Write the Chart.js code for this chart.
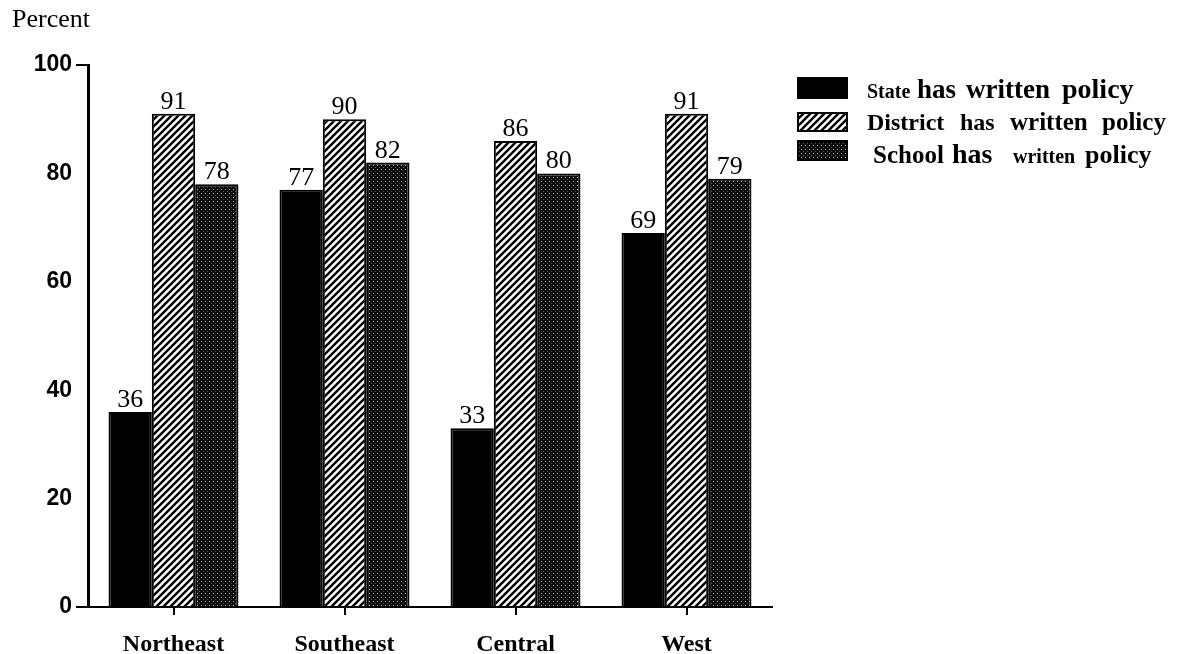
<!DOCTYPE html>
<html>
<head>
<meta charset="utf-8">
<script src="https://cdn.jsdelivr.net/npm/chart.js@4/dist/chart.umd.min.js"></script>
<style>
  html, body { margin: 0; padding: 0; background: #fff; }
  #wrap { position: relative; width: 1182px; height: 654px; }
  canvas { display: block; }
</style>
</head>
<body>
<div id="wrap"><canvas id="c" width="1182" height="654"></canvas></div>
<script>
// Regions and the share of each level with a written policy (percent)
const categories = ['Northeast', 'Southeast', 'Central', 'West'];
const stateValues = [36, 77, 33, 69];
const districtValues = [91, 90, 86, 91];
const schoolValues = [78, 82, 80, 79];
const yTickValues = [0, 20, 40, 60, 80, 100];
const seriesNames = ['State has written policy', 'District has written policy', 'School has written policy'];

const SERIF = '"Liberation Serif", "Times New Roman", serif';
const SANS = '"Liberation Sans", Arial, sans-serif';

// Fill patterns: diagonal hatch and dark stipple
function hatchPattern() {
  const s = 7;
  const t = document.createElement('canvas');
  t.width = s; t.height = s;
  const g = t.getContext('2d');
  g.fillStyle = '#fff';
  g.fillRect(0, 0, s, s);
  g.strokeStyle = '#000';
  g.lineWidth = 2.4;
  g.beginPath();
  g.moveTo(-1, s + 1); g.lineTo(s + 1, -1);
  g.moveTo(-1, 1); g.lineTo(1, -1);
  g.moveTo(s - 1, s + 1); g.lineTo(s + 1, s - 1);
  g.stroke();
  return g.createPattern(t, 'repeat');
}
function stipplePattern() {
  const s = 4;
  const t = document.createElement('canvas');
  t.width = s; t.height = s;
  const g = t.getContext('2d');
  g.fillStyle = '#0a0a0a';
  g.fillRect(0, 0, s, s);
  g.fillStyle = 'rgba(255,255,255,0.75)';
  g.fillRect(1, 1, 1, 1);
  g.fillStyle = 'rgba(255,255,255,0.35)';
  g.fillRect(3, 3, 1, 1);
  return g.createPattern(t, 'repeat');
}
const fills = ['#000', hatchPattern(), stipplePattern()];

// Value labels above each bar
const valueLabels = {
  id: 'valueLabels',
  afterDatasetsDraw(chart) {
    const ctx = chart.ctx;
    ctx.save();
    ctx.fillStyle = '#000';
    ctx.font = '26px ' + SERIF;
    ctx.textAlign = 'center';
    ctx.textBaseline = 'alphabetic';
    chart.data.datasets.forEach((ds, i) => {
      chart.getDatasetMeta(i).data.forEach((bar, j) => {
        ctx.fillText(String(ds.data[j]), bar.x, bar.y - 5);
      });
    });
    ctx.restore();
  }
};

// Axis caption and legend rows, set word by word in mixed type sizes
const legendRows = [
  { box: [797, 77, 51, 22], baseline: 98, words: [
    { t: 'State', x: 867, size: 20 }, { t: 'has', x: 917, size: 27 },
    { t: 'written', x: 966, size: 27 }, { t: 'policy', x: 1062, size: 28 } ] },
  { box: [797, 112, 51, 20], baseline: 130, words: [
    { t: 'District', x: 867, size: 24 }, { t: 'has', x: 960, size: 24 },
    { t: 'written', x: 1010, size: 25 }, { t: 'policy', x: 1102, size: 25 } ] },
  { box: [797, 140, 51, 21], baseline: 163, words: [
    { t: 'School', x: 873, size: 25 }, { t: 'has', x: 952, size: 28 },
    { t: 'written', x: 1013, size: 20 }, { t: 'policy', x: 1085, size: 26 } ] }
];
const decorations = {
  id: 'decorations',
  afterDraw(chart) {
    const ctx = chart.ctx;
    ctx.save();
    ctx.fillStyle = '#000';
    ctx.font = '26px ' + SERIF;
    ctx.textAlign = 'left';
    ctx.textBaseline = 'alphabetic';
    ctx.fillText('Percent', 12, 27);
    legendRows.forEach((row, i) => {
      const [bx, by, bw, bh] = row.box;
      ctx.fillStyle = fills[i];
      ctx.fillRect(bx, by, bw, bh);
      ctx.strokeStyle = '#000';
      ctx.lineWidth = 2;
      ctx.strokeRect(bx + 1, by + 1, bw - 2, bh - 2);
      ctx.fillStyle = '#000';
      row.words.forEach(w => {
        ctx.font = 'bold ' + w.size + 'px ' + SERIF;
        ctx.fillText(w.t, w.x, row.baseline);
      });
    });
    ctx.restore();
  }
};

const commonBar = { borderColor: '#000', borderWidth: 2, borderSkipped: 'bottom' };

new Chart(document.getElementById('c'), {
  type: 'bar',
  data: {
    labels: categories,
    datasets: [
      Object.assign({ label: seriesNames[0], data: stateValues, backgroundColor: fills[0] }, commonBar),
      Object.assign({ label: seriesNames[1], data: districtValues, backgroundColor: fills[1] }, commonBar),
      Object.assign({ label: seriesNames[2], data: schoolValues, backgroundColor: fills[2] }, commonBar)
    ]
  },
  options: {
    responsive: false,
    animation: false,
    devicePixelRatio: 1,
    categoryPercentage: 0.76,
    barPercentage: 1.0,
    layout: { padding: { top: 65, left: 0, right: 410, bottom: 0 } },
    plugins: { legend: { display: false }, tooltip: { enabled: false }, title: { display: false } },
    scales: {
      x: {
        offset: true,
        afterFit(scale) { scale.height = 47; },
        border: { display: true, color: '#000', width: 2 },
        grid: { offset: false, drawOnChartArea: false, drawTicks: true, tickLength: 8, tickColor: '#000', lineWidth: 2 },
        ticks: { color: '#000', padding: 15, font: { family: SERIF, size: 24, weight: 'bold' } }
      },
      y: {
        min: 0, max: 100,
        afterFit(scale) { scale.width = 88; },
        afterBuildTicks(scale) { scale.ticks = yTickValues.map(v => ({ value: v })); },
        border: { display: true, color: '#000', width: 3 },
        grid: {
          drawOnChartArea: false, drawTicks: true, tickLength: 12, lineWidth: 2,
          tickColor: (c) => (c.tick && (c.tick.value === 0 || c.tick.value === 100)) ? '#000' : 'rgba(0,0,0,0)'
        },
        ticks: { color: '#000', padding: 4, font: { family: SANS, size: 23, weight: 'bold' } }
      }
    }
  },
  plugins: [valueLabels, decorations]
});
</script>
</body>
</html>
